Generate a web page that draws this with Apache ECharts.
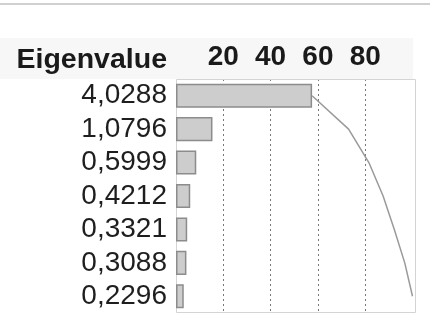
<!DOCTYPE html>
<html>
<head>
<meta charset="utf-8">
<script src="https://cdn.jsdelivr.net/npm/echarts@6/dist/echarts.min.js"></script>
<style>
html,body{margin:0;padding:0;background:#fff;}
#chart{width:437px;height:333px;}
</style>
</head>
<body>
<div id="chart"></div>
<script>
var eigenvalues = ['4,0288','1,0796','0,5999','0,4212','0,3321','0,3088','0,2296'];
var percent = [57.55, 15.42, 8.57, 6.02, 4.74, 4.41, 3.28];
var cumPercent = [57.55, 72.98, 81.55, 87.57, 92.31, 96.72, 100];
var tickLabels = ['20','40','60','80'];

var chart = echarts.init(document.getElementById('chart'), null, {renderer:'canvas'});
var FONT = '"Liberation Sans", Arial, Helvetica, sans-serif';
var option = {
  animation: false,
  backgroundColor: '#ffffff',
  graphic: [
    {type:'rect', shape:{x:0,y:3,width:430,height:2}, style:{fill:'#d0d0d0'}, z:0},
    {type:'rect', shape:{x:0,y:38,width:413,height:41}, style:{fill:'#f7f7f7'}, z:0},
    {type:'rect', shape:{x:176.5,y:79.5,width:239,height:233}, style:{fill:'none',stroke:'#d4d4d4',lineWidth:1}, z:1},
    {type:'text', x:167, y:60, style:{text:'Eigenvalue', fontFamily:FONT, fontSize:28.5, fontWeight:'bold', fill:'#1a1a1a', align:'right', verticalAlign:'middle'}, z:5}
  ],
  grid: {left:176, top:79, width:236.5, height:234, show:false, containLabel:false},
  xAxis: {
    type:'value', position:'top', min:0, max:100, interval:20,
    axisLine:{show:false}, axisTick:{show:false},
    axisLabel:{
      show:true, margin:8, fontFamily:FONT, fontSize:28, fontWeight:'bold', color:'#1a1a1a',
      formatter:function(v){ var s = String(v); return tickLabels.indexOf(s) >= 0 ? s : ''; }
    },
    splitLine:{show:true, showMinLine:false, showMaxLine:false, lineStyle:{color:'#777', type:[2,3], width:1}}
  },
  yAxis: {
    type:'category', data:eigenvalues, inverse:true,
    axisLine:{show:false}, axisTick:{show:false},
    axisLabel:{interval:0, margin:9, fontFamily:FONT, fontSize:28, color:'#1e1e1e'},
    splitLine:{show:false}
  },
  series: [
    {
      type:'bar', data:percent, barWidth:'72%',
      itemStyle:{color:'#cdcdcd', borderColor:'#8c8c8c', borderWidth:1.5},
      z:2
    },
    {
      type:'line', data:cumPercent, showSymbol:false, symbol:'none',
      lineStyle:{color:'#9a9a9a', width:1.5},
      z:3
    }
  ]
};
chart.setOption(option);
</script>
</body>
</html>
